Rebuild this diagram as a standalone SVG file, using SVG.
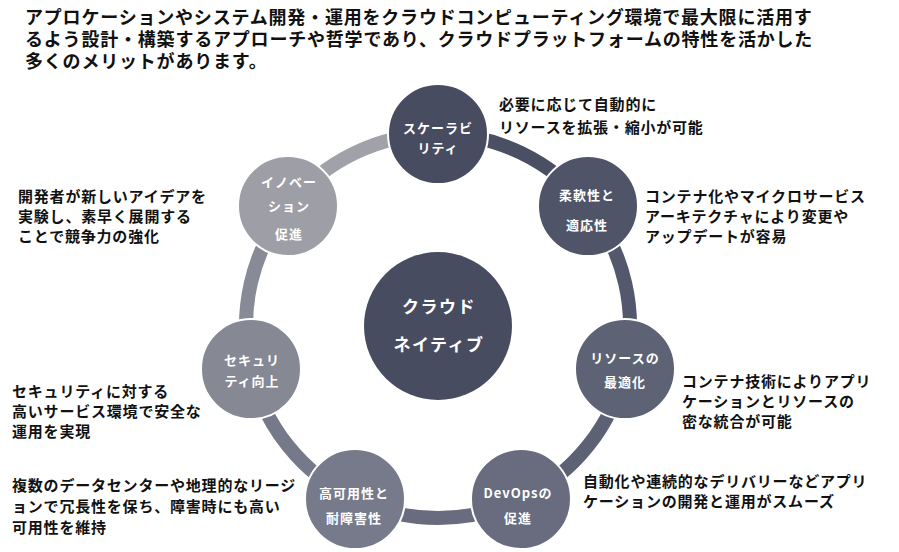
<svg xmlns="http://www.w3.org/2000/svg" width="899" height="552" viewBox="0 0 899 552">
<style>
.t{font-family:"Noto Sans CJK JP","Noto Sans",sans-serif;font-weight:700;fill:#111;}
.top{font-size:18px;letter-spacing:0.8px;}
.d{font-size:15px;letter-spacing:0.8px;}
.n{font-family:"Noto Sans CJK JP","Noto Sans",sans-serif;font-weight:700;fill:#fff;font-size:13px;letter-spacing:1px;text-anchor:middle;}
.c{font-size:17px;letter-spacing:1.5px;}
.node{stroke:#fff;stroke-width:2;}
.seg{fill:none;stroke-width:14;}
</style>
<rect width="899" height="552" fill="#fff"/>
<g id="intro">
<text class="t top" x="25" y="24">アプロケーションやシステム開発・運用をクラウドコンピューティング環境で最大限に活用す</text>
<text class="t top" x="25" y="46">るよう設計・構築するアプローチや哲学であり、クラウドプラットフォームの特性を活かした</text>
<text class="t top" x="25" y="68">多くのメリットがあります。</text>
</g>
<g id="connectors">
<path class="seg" stroke="#4a4f63" d="M438 134 A192 192 0 0 1 588.1 206.3"/>
<path class="seg" stroke="#53586c" d="M588.1 206.3 A192 192 0 0 1 625.2 368.7"/>
<path class="seg" stroke="#5c6174" d="M625.2 368.7 A192 192 0 0 1 521.3 499"/>
<path class="seg" stroke="#686c7e" d="M521.3 499 A192 192 0 0 1 354.7 499"/>
<path class="seg" stroke="#76798a" d="M354.7 499 A192 192 0 0 1 250.8 368.7"/>
<path class="seg" stroke="#888a96" d="M250.8 368.7 A192 192 0 0 1 287.9 206.3"/>
<path class="seg" stroke="#a0a1a9" d="M287.9 206.3 A192 192 0 0 1 438 134"/>
</g>
<g id="center">
<circle cx="438" cy="326" r="74" fill="#474c60"/>
<text class="n c" x="439" y="313">クラウド</text>
<text class="n c" x="439" y="351">ネイティブ</text>
</g>
<g id="scalability">
<circle class="node" cx="438" cy="134" r="50" fill="#474c60"/>
<text class="n" x="438" y="133">スケーラビ</text>
<text class="n" x="438" y="153">リティ</text>
<text class="t d" x="499" y="110">必要に応じて自動的に</text>
<text class="t d" x="499" y="133">リソースを拡張・縮小が可能</text>
</g>
<g id="flexibility">
<circle class="node" cx="588" cy="206" r="50" fill="#4f5468"/>
<text class="n" x="587" y="200">柔軟性と</text>
<text class="n" x="587" y="230">適応性</text>
<text class="t d" x="645" y="202">コンテナ化やマイクロサービス</text>
<text class="t d" x="645" y="222">アーキテクチャにより変更や</text>
<text class="t d" x="645" y="242">アップデートが容易</text>
</g>
<g id="resources">
<circle class="node" cx="625" cy="369" r="50" fill="#5d6275"/>
<text class="n" x="625" y="363">リソースの</text>
<text class="n" x="625" y="387">最適化</text>
<text class="t d" x="682" y="387">コンテナ技術によりアプリ</text>
<text class="t d" x="682" y="407">ケーションとリソースの</text>
<text class="t d" x="682" y="427">密な統合が可能</text>
</g>
<g id="devops">
<circle class="node" cx="521" cy="499" r="50" fill="#686c7e"/>
<text class="n" x="518" y="498">DevOpsの</text>
<text class="n" x="518" y="523">促進</text>
<text class="t d" x="583" y="487">自動化や連続的なデリバリーなどアプリ</text>
<text class="t d" x="583" y="507">ケーションの開発と運用がスムーズ</text>
</g>
<g id="availability">
<circle class="node" cx="355" cy="499" r="50" fill="#777a8a"/>
<text class="n" x="354" y="498">高可用性と</text>
<text class="n" x="354" y="523">耐障害性</text>
<text class="t d" x="12" y="491">複数のデータセンターや地理的なリージ</text>
<text class="t d" x="12" y="512">ョンで冗長性を保ち、障害時にも高い</text>
<text class="t d" x="12" y="533">可用性を維持</text>
</g>
<g id="security">
<circle class="node" cx="251" cy="369" r="50" fill="#868894"/>
<text class="n" x="252" y="365">セキュリ</text>
<text class="n" x="252" y="386">ティ向上</text>
<text class="t d" x="12" y="397">セキュリティに対する</text>
<text class="t d" x="12" y="417">高いサービス環境で安全な</text>
<text class="t d" x="12" y="437">運用を実現</text>
</g>
<g id="innovation">
<circle class="node" cx="288" cy="206" r="50" fill="#9d9ea6"/>
<text class="n" x="289" y="187">イノベー</text>
<text class="n" x="289" y="211">ション</text>
<text class="n" x="289" y="239">促進</text>
<text class="t d" x="18" y="202">開発者が新しいアイデアを</text>
<text class="t d" x="18" y="222">実験し、素早く展開する</text>
<text class="t d" x="18" y="242">ことで競争力の強化</text>
</g>
</svg>
